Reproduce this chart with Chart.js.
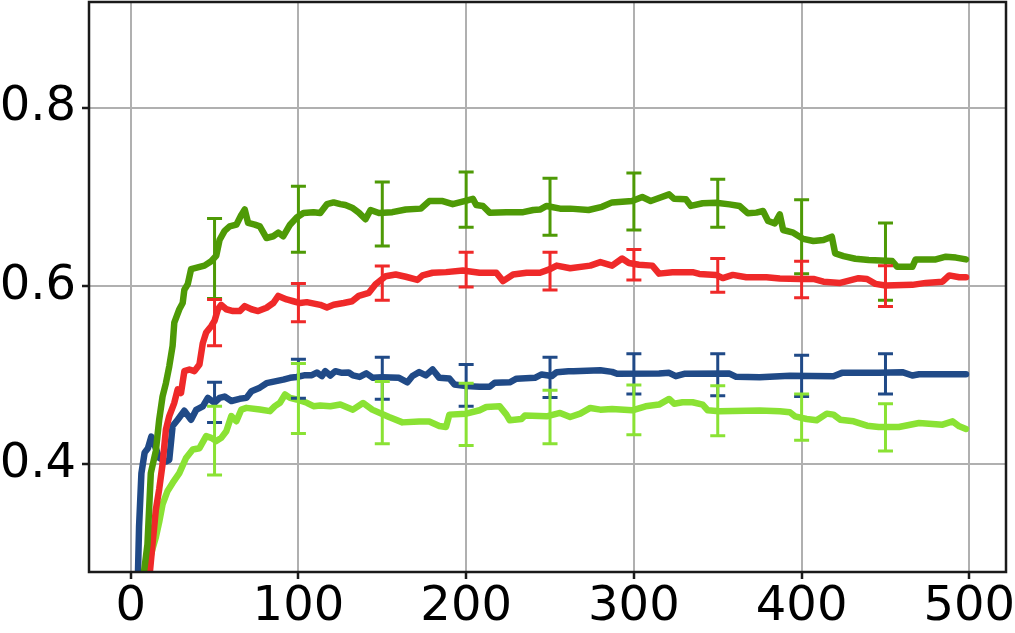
<!DOCTYPE html>
<html>
<head>
<meta charset="utf-8">
<script src="https://cdn.jsdelivr.net/npm/chart.js@4/dist/chart.umd.min.js"></script>
<style>
html,body{margin:0;padding:0;background:#fff}
#wrap{width:1015px;height:633px}
</style>
</head>
<body>
<div id="wrap"><canvas id="chart" width="1015" height="633"></canvas></div>
<script>

// axis ticks
const xTicks = [0,100,200,300,400,500]
const yTicks = [0.4,0.6,0.8]

// dark green run
const greenX = [0,6,8,10,12,15,17,19,21,23,25,26,29,31,32,34,36,40,44,48,51,53,56,59,63,66,68,70,74,77,81,85,88,91,95,99,103,109,113,117,121,125,128,132,136,140,143,148,156,164,173,178,186,192,199,204,206,210,214,224,234,240,244,248,256,262,273,281,287,299,305,310,315,321,324,331,334,341,349,357,363,368,373,377,380,384,387,389,395,401,407,413,418,420,425,432,440,454,457,466,468,480,486,492,498]
const greenY = [0.20,0.22,0.28,0.31,0.39,0.415,0.45,0.476,0.491,0.51,0.533,0.559,0.574,0.581,0.596,0.602,0.619,0.621,0.623,0.628,0.634,0.652,0.662,0.667,0.669,0.68,0.686,0.671,0.669,0.667,0.654,0.656,0.66,0.656,0.669,0.677,0.682,0.683,0.682,0.692,0.694,0.692,0.691,0.688,0.6825,0.675,0.6855,0.682,0.683,0.686,0.687,0.6955,0.6955,0.692,0.6955,0.698,0.691,0.69,0.6825,0.683,0.683,0.6855,0.686,0.69,0.687,0.687,0.6855,0.689,0.694,0.6955,0.70,0.6955,0.699,0.703,0.698,0.6975,0.69,0.693,0.6937,0.6918,0.69,0.6817,0.6825,0.6843,0.6731,0.6705,0.6806,0.663,0.66,0.653,0.6506,0.6517,0.6555,0.6367,0.6337,0.6307,0.6292,0.6281,0.6217,0.6217,0.63,0.63,0.633,0.632,0.63]

// red run
const redX = [0,10,12,13,15,17,19,21,23,26,28,30,32,35,38,41,43,45,48,50,52,54,57,61,65,68,72,76,81,85,88,93,97,101,105,113,117,121,127,132,136,142,146,152,158,164,171,174,180,188,198,208,218,222,228,236,244,250,254,262,274,280,287,293,297,303,311,315,323,335,339,349,353,359,367,379,387,399,407,413,423,434,439,444,450,466,474,484,488,494,498]
const redY = [0.20,0.25,0.29,0.31,0.349,0.372,0.40,0.439,0.454,0.469,0.484,0.48,0.5045,0.5064,0.5045,0.512,0.536,0.548,0.555,0.561,0.574,0.579,0.574,0.572,0.572,0.5775,0.574,0.572,0.5757,0.581,0.589,0.585,0.583,0.581,0.582,0.579,0.576,0.579,0.581,0.583,0.589,0.5925,0.602,0.611,0.613,0.6105,0.607,0.612,0.615,0.6157,0.6176,0.615,0.615,0.6056,0.613,0.615,0.615,0.619,0.623,0.62,0.623,0.627,0.623,0.631,0.626,0.624,0.623,0.614,0.6156,0.6156,0.6137,0.6126,0.609,0.6126,0.61,0.61,0.6085,0.6081,0.6081,0.605,0.6036,0.6089,0.608,0.6025,0.6006,0.6014,0.6036,0.605,0.612,0.61,0.61]

// blue run
const blueX = [0,4,5,6.4,8.3,10.3,12.3,15,17,21,23,25,28,32,36,39,43,46,50,53,56,60,65,69,72,77,81,86,91,95,99,104,108,111,114,116,119,122,126,130,132.5,136.5,140.5,144.4,150,160,165,168,172,176,180,184,190,193,200,208,214,217,226,230,241,245,251,254,261,264,280,287,290,315,321,325,330,357,361,375,393,419,424,446,460,466,470,498]
const blueY = [0.22,0.25,0.33,0.39,0.413,0.418,0.431,0.418,0.407,0.403,0.405,0.443,0.45,0.46,0.45,0.461,0.465,0.4745,0.469,0.4745,0.476,0.471,0.4735,0.4745,0.482,0.486,0.491,0.493,0.495,0.497,0.498,0.5,0.5,0.503,0.499,0.5045,0.4996,0.5045,0.5026,0.503,0.4997,0.498,0.502,0.497,0.4977,0.497,0.492,0.499,0.5034,0.4997,0.5064,0.497,0.4963,0.4895,0.4877,0.487,0.487,0.4915,0.492,0.496,0.497,0.5008,0.499,0.5034,0.5045,0.5045,0.5056,0.5037,0.5015,0.5018,0.5026,0.4989,0.5015,0.5018,0.4981,0.4977,0.4993,0.4989,0.5026,0.5026,0.5034,0.4996,0.5011,0.5011]

// light green run
const limeX = [0,9,11,13,15,17,19,22,25,29,33,37,41,45,48,51,54,57,60,63,66,69,77,83,86,89,92,95,99,105,109,113,119,125,132.5,138.5,144,154,162,172,178,184,188,190,200,208,212,220,224,226,233,235,248,256,262,268,274,280,287,299,307,315,321,324,329,335,341,344,351,375,387,393,396,403,409,415,419,423,431,439,446,458,470,484,490,494,498]
const limeY = [0.20,0.26,0.29,0.305,0.318,0.335,0.355,0.37,0.379,0.39,0.407,0.4165,0.418,0.4315,0.4296,0.426,0.4296,0.437,0.454,0.4483,0.4614,0.4633,0.4614,0.4596,0.4652,0.469,0.4783,0.4745,0.4727,0.469,0.4652,0.466,0.4652,0.467,0.4613,0.4688,0.4613,0.453,0.447,0.448,0.448,0.443,0.4418,0.4557,0.4568,0.4606,0.4643,0.465,0.4557,0.4493,0.4508,0.4546,0.4538,0.4576,0.453,0.4568,0.4632,0.4613,0.462,0.4606,0.465,0.467,0.4733,0.468,0.4696,0.4696,0.467,0.4606,0.4595,0.4602,0.4595,0.4583,0.4538,0.4508,0.4493,0.4568,0.4557,0.45,0.4482,0.4433,0.4418,0.4418,0.4463,0.4444,0.4482,0.4426,0.4396]

// error bars (low / high) at these x
const errX = [50,100,150,200,250,300,350,400,450]
const greenLo = [0.586,0.638,0.645,0.666,0.657,0.663,0.666,0.614,0.584]
const greenHi = [0.676,0.712,0.717,0.728,0.721,0.727,0.720,0.697,0.671]
const redLo = [0.533,0.560,0.584,0.599,0.5955,0.607,0.593,0.587,0.577]
const redHi = [0.585,0.603,0.6225,0.638,0.638,0.641,0.631,0.628,0.623]
const blueLo = [0.447,0.474,0.473,0.465,0.475,0.479,0.477,0.476,0.479]
const blueHi = [0.492,0.518,0.520,0.512,0.520,0.524,0.524,0.5225,0.524]
const limeLo = [0.388,0.4345,0.423,0.421,0.423,0.433,0.432,0.427,0.415]
const limeHi = [0.465,0.513,0.493,0.491,0.483,0.489,0.488,0.479,0.468]

const series = [
{xs:greenX, ys:greenY, lo:greenLo, hi:greenHi, color:"#4e9a06"},
{xs:redX, ys:redY, lo:redLo, hi:redHi, color:"#ef2929"},
{xs:blueX, ys:blueY, lo:blueLo, hi:blueHi, color:"#204a87"},
{xs:limeX, ys:limeY, lo:limeLo, hi:limeHi, color:"#8ae234"}
]

const FONT = "'DejaVu Sans', sans-serif"

// error bars drawn through the chart's scales
const errorBars = {
id:"errorBars",
afterDatasetsDraw(chart){
const {ctx, chartArea, scales} = chart
ctx.save()
ctx.beginPath()
ctx.rect(chartArea.left, chartArea.top, chartArea.right-chartArea.left, chartArea.bottom-chartArea.top)
ctx.clip()
ctx.lineWidth = 3
series.forEach(s=>{
ctx.strokeStyle = s.color
errX.forEach((x,i)=>{
const px = scales.x.getPixelForValue(x)
const p1 = scales.y.getPixelForValue(s.lo[i])
const p2 = scales.y.getPixelForValue(s.hi[i])
ctx.beginPath()
ctx.moveTo(px,p1); ctx.lineTo(px,p2)
ctx.moveTo(px-7.5,p1); ctx.lineTo(px+7.5,p1)
ctx.moveTo(px-7.5,p2); ctx.lineTo(px+7.5,p2)
ctx.stroke()
})
})
ctx.restore()
}
}

// black box around the plot
const frame = {
id:"frame",
afterDraw(chart){
const {ctx, chartArea} = chart
ctx.save()
ctx.strokeStyle = "#1a1a1a"
ctx.lineWidth = 2.5
ctx.strokeRect(chartArea.left, chartArea.top, chartArea.right-chartArea.left, chartArea.bottom-chartArea.top)
ctx.restore()
}
}

new Chart(document.getElementById("chart"),{
type:"line",
data:{
datasets: series.map(s=>({
data: s.xs.map((x,i)=>({x:x, y:s.ys[i]})),
borderColor: s.color,
borderWidth: 6.5,
pointRadius: 0,
tension: 0,
fill: false,
borderJoinStyle: "round",
borderCapStyle: "round",
clip: 0
}))
},
options:{
responsive:false,
animation:false,
devicePixelRatio:1,
layout:{ padding:{ top:2, right:9, left:0, bottom:0 } },
plugins:{
legend:{ display:false },
tooltip:{ enabled:false }
},
scales:{
x:{
type:"linear",
min:-24.85,
max:521.85,
afterBuildTicks: s => { s.ticks = xTicks.map(v=>({value:v})) },
afterFit: s => { s.height = 61; s.paddingLeft = 0; s.paddingRight = 0 },
grid:{ color:"#b0b0b0", lineWidth:2, tickColor:"#1a1a1a", tickWidth:2.5, tickLength:7 },
border:{ display:false },
ticks:{ color:"#000", padding:0, maxRotation:0, font:{ family:FONT, size:48 } }
},
y:{
type:"linear",
min:0.279,
max:0.919,
afterBuildTicks: s => { s.ticks = yTicks.map(v=>({value:v})) },
afterFit: s => { s.width = 89; s.paddingTop = 0; s.paddingBottom = 0 },
grid:{ color:"#b0b0b0", lineWidth:2, tickColor:"#1a1a1a", tickWidth:2.5, tickLength:7 },
border:{ display:false },
ticks:{ color:"#000", padding:6, font:{ family:FONT, size:48 }, callback: v => v.toFixed(1) }
}
}
},
plugins:[errorBars, frame]
})

</script>
</body>
</html>
